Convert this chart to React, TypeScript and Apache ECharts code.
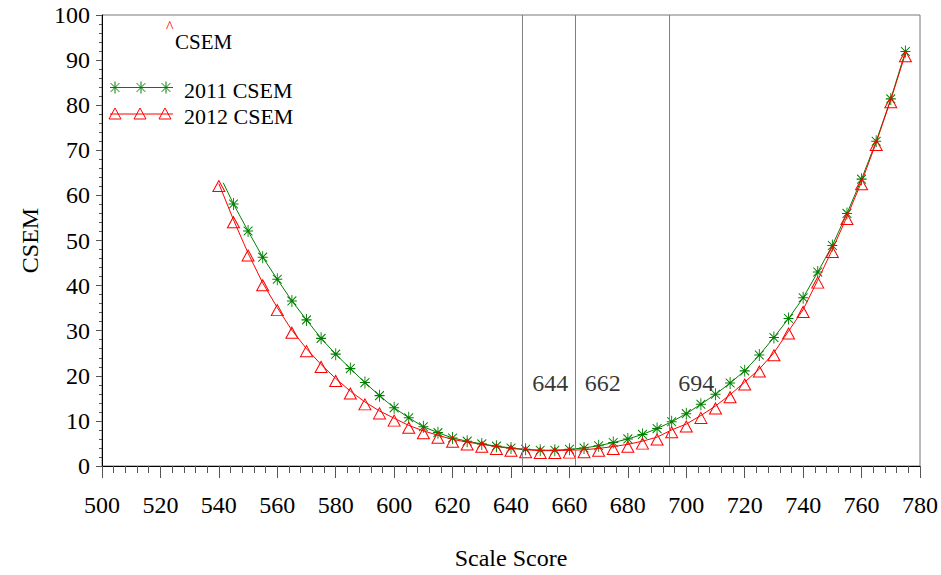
import React, { useEffect, useRef } from "react";
import * as echarts from "echarts";

const scores2011 = [541.5, 545, 550, 555, 560, 565, 570, 575, 580, 585, 590, 595, 600, 605, 610, 615, 620, 625, 630, 635, 640, 645, 650, 655, 660, 665, 670, 675, 680, 685, 690, 695, 700, 705, 710, 715, 720, 725, 730, 735, 740, 745, 750, 755, 760, 765, 770, 775];
const csem2011 = [62.8, 58.1, 52.1, 46.3, 41.4, 36.6, 32.4, 28.3, 24.8, 21.6, 18.5, 15.6, 12.9, 10.7, 8.7, 7.4, 6.2, 5.5, 4.9, 4.4, 4.0, 3.7, 3.5, 3.5, 3.7, 4.0, 4.5, 5.2, 6.0, 7.0, 8.3, 9.8, 11.6, 13.7, 15.9, 18.4, 21.1, 24.6, 28.5, 32.7, 37.3, 43.0, 48.9, 56.0, 63.6, 72.0, 81.4, 91.9];
const scores2012 = [540, 545, 550, 555, 560, 565, 570, 575, 580, 585, 590, 595, 600, 605, 610, 615, 620, 625, 630, 635, 640, 645, 650, 655, 660, 665, 670, 675, 680, 685, 690, 695, 700, 705, 710, 715, 720, 725, 730, 735, 740, 745, 750, 755, 760, 765, 770, 775];
const csem2012 = [62.6, 54.6, 47.2, 40.6, 35.1, 30.1, 26.0, 22.5, 19.4, 16.6, 14.2, 12.2, 10.6, 9.0, 7.8, 6.8, 5.9, 5.3, 4.8, 4.3, 3.9, 3.6, 3.4, 3.4, 3.5, 3.6, 3.9, 4.3, 4.8, 5.5, 6.4, 8.0, 9.3, 11.2, 13.3, 15.8, 18.6, 21.5, 25.1, 29.9, 34.7, 41.2, 48.0, 55.3, 63.0, 71.7, 81.2, 91.4];
const cutScores = [644, 662, 694];
const cutLabelLevel = 18.5;
const seriesNames = ["2011 CSEM", "2012 CSEM"];

const GREEN = "#008000";
const RED = "#ff0000";
const FONT = "Liberation Serif";
const STAR = "path://M5,0L5,12M0,6L10,6M0.6,1.6L9.4,10.4M0.6,10.4L9.4,1.6";

function starGraphic(cx: number, cy: number) {
  const s = { stroke: GREEN, lineWidth: 1 };
  return [
    { type: "line", shape: { x1: cx, y1: cy - 6, x2: cx, y2: cy + 6 }, style: s },
    { type: "line", shape: { x1: cx - 5, y1: cy, x2: cx + 5, y2: cy }, style: s },
    { type: "line", shape: { x1: cx - 4.4, y1: cy - 4.4, x2: cx + 4.4, y2: cy + 4.4 }, style: s },
    { type: "line", shape: { x1: cx - 4.4, y1: cy + 4.4, x2: cx + 4.4, y2: cy - 4.4 }, style: s },
  ];
}

function triGraphic(cx: number, top: number) {
  return {
    type: "polygon",
    shape: { points: [[cx, top], [cx - 6, top + 11], [cx + 6, top + 11]] },
    style: { stroke: RED, fill: "none", lineWidth: 1 },
  };
}

export default function App() {
  const ref = useRef<HTMLDivElement>(null);
  useEffect(() => {
    document.body.style.margin = "0";
    if (!ref.current) return;
    const chart = echarts.init(ref.current, null, { renderer: "svg" });
    const data2011 = scores2011.map((x, i) =>
      i === 0 ? { value: [x, csem2011[i]], symbol: "none" } : { value: [x, csem2011[i]] }
    );
    const data2012 = scores2012.map((x, i) => [x, csem2012[i]]);
    const legendY1 = 87.5;
    const legendY2 = 114;
    const txt = { fontSize: 24, color: "#000", fontFamily: FONT };
    const option: any = {
      animation: false,
      backgroundColor: "#fff",
      textStyle: { fontFamily: FONT },
      grid: { left: 102, right: 21, top: 15, bottom: 108, show: true, borderColor: "#777", borderWidth: 1, backgroundColor: "transparent" },
      xAxis: {
        type: "value",
        min: 500,
        max: 780,
        interval: 20,
        name: "Scale Score",
        nameLocation: "middle",
        nameGap: 80,
        nameTextStyle: txt,
        axisLine: { show: true, lineStyle: { color: "#000", width: 1 } },
        axisTick: { show: true, length: 12, lineStyle: { color: "#555" } },
        minorTick: { show: true, splitNumber: 5, length: 7, lineStyle: { color: "#555" } },
        splitLine: { show: false },
        axisLabel: { ...txt, margin: 27 },
      },
      yAxis: {
        type: "value",
        min: 0,
        max: 100,
        interval: 10,
        name: "CSEM",
        nameLocation: "middle",
        nameGap: 60,
        nameRotate: 90,
        nameTextStyle: txt,
        axisLine: { show: true, lineStyle: { color: "#000", width: 1 } },
        axisTick: { show: true, length: 6, lineStyle: { color: "#555" } },
        minorTick: { show: true, splitNumber: 5, length: 3, lineStyle: { color: "#555" } },
        splitLine: { show: false },
        axisLabel: { ...txt, margin: 12 },
      },
      series: [
        {
          name: seriesNames[0],
          type: "line",
          data: data2011,
          symbol: STAR,
          symbolSize: [10, 12],
          showAllSymbol: true,
          itemStyle: { color: "rgba(0,0,0,0)", borderColor: GREEN, borderWidth: 1 },
          lineStyle: { color: GREEN, width: 1 },
          z: 3,
          markLine: {
            silent: true,
            symbol: ["none", "none"],
            label: { show: false },
            lineStyle: { color: "#808080", width: 1, type: "solid" },
            data: cutScores.map((v) => ({ xAxis: v })),
          },
        },
        {
          name: seriesNames[1],
          type: "line",
          data: data2012,
          symbol: "triangle",
          symbolSize: [12, 11],
          symbolOffset: [0, "22%"],
          showAllSymbol: true,
          itemStyle: { color: "rgba(0,0,0,0)", borderColor: RED, borderWidth: 1 },
          lineStyle: { color: RED, width: 1 },
          z: 4,
        },
        {
          name: "cuts",
          type: "scatter",
          data: cutScores.map((v) => [v, cutLabelLevel]),
          symbolSize: 1,
          itemStyle: { color: "rgba(0,0,0,0)" },
          silent: true,
          label: {
            show: true,
            position: "right",
            distance: 9,
            formatter: (p: any) => String(p.value[0]),
            ...txt,
          },
        },
      ],
      graphic: [
        { type: "text", left: 166, top: 18, style: { text: "^", fill: RED, font: `16px ${FONT}`, lineHeight: 10 } },
        { type: "text", left: 175, top: 31, style: { text: "CSEM", fill: "#000", font: `21px ${FONT}` } },
        { type: "line", shape: { x1: 110, y1: legendY1, x2: 173, y2: legendY1 }, style: { stroke: GREEN, lineWidth: 1 } },
        ...starGraphic(115, legendY1),
        ...starGraphic(141, legendY1),
        ...starGraphic(166, legendY1),
        { type: "text", left: 184, top: 79, style: { text: seriesNames[0], fill: "#000", font: `22px ${FONT}` } },
        { type: "line", shape: { x1: 110, y1: legendY2, x2: 173, y2: legendY2 }, style: { stroke: RED, lineWidth: 1 } },
        triGraphic(115, 108),
        triGraphic(140, 108),
        triGraphic(165, 108),
        { type: "text", left: 184, top: 105, style: { text: seriesNames[1], fill: "#000", font: `22px ${FONT}` } },
      ],
    };
    chart.setOption(option);
    return () => chart.dispose();
  }, []);
  return <div ref={ref} style={{ position: "absolute", left: 0, top: 0, width: 941, height: 575 }} />;
}
